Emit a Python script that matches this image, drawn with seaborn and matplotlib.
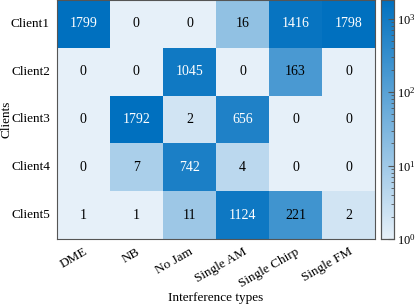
import numpy as np
import pandas as pd
import seaborn as sns
import matplotlib.pyplot as plt
from matplotlib.colors import LinearSegmentedColormap, LogNorm

clients = ['Client1', 'Client2', 'Client3', 'Client4', 'Client5']
jam_types = ['DME', 'NB', 'No Jam', 'Single AM', 'Single Chirp', 'Single FM']
counts = [
    [1799, 0, 0, 16, 1416, 1798],
    [0, 0, 1045, 0, 163, 0],
    [0, 1792, 2, 656, 0, 0],
    [0, 7, 742, 4, 0, 0],
    [1, 1, 11, 1124, 221, 2],
]

plt.rcParams['font.family'] = ['Liberation Serif', 'DejaVu Serif']
plt.rcParams['mathtext.fontset'] = 'stix'

df = pd.DataFrame(counts, index=clients, columns=jam_types)
# zeros get the lowest colour, like the original
shown = df.clip(lower=1)

cmap = LinearSegmentedColormap.from_list('sky', [(0.90, 0.94, 0.975), (0.0, 0.44, 0.75)])
norm = LogNorm(vmin=1, vmax=df.values.max())

fig = plt.figure(figsize=(4.15, 3.04), dpi=100)
ax = fig.add_axes([0.137, 0.214, 0.767, 0.786])
cax = fig.add_axes([0.918, 0.214, 0.031, 0.786])

sns.heatmap(shown, cmap=cmap, norm=norm, annot=False, cbar=True, cbar_ax=cax, ax=ax)

for i in range(len(clients)):
    for j in range(len(jam_types)):
        v = df.iloc[i, j]
        level = norm(max(v, 1))
        col = 'white' if level > 0.75 else 'black'
        ax.text(j + 0.5, i + 0.5, str(v), ha='center', va='center', fontsize=10, color=col)

ax.set_xticklabels(jam_types, rotation=30, ha='right', rotation_mode='anchor', fontsize=9.5)
ax.set_yticklabels(clients, rotation=0, fontsize=9.5)
ax.tick_params(axis='y', length=0, pad=5)
ax.tick_params(axis='x', length=0, pad=5)
ax.set_xlabel('Interference types', fontsize=9.5)
ax.set_ylabel('Clients', fontsize=9.5)
ax.xaxis.set_label_coords(0.5, -0.222)
ax.yaxis.set_label_coords(-0.138, 0.5)
for s in ax.spines.values():
    s.set_visible(True)
    s.set_color('#555555')
    s.set_linewidth(0.8)

cax.tick_params(which='both', direction='in', color='#555555', labelsize=9, pad=2)
cax.tick_params(which='major', length=4)
cax.tick_params(which='minor', length=2)
for s in cax.spines.values():
    s.set_visible(True)
    s.set_color('#555555')
    s.set_linewidth(0.8)

plt.savefig('out.png', dpi=100)
